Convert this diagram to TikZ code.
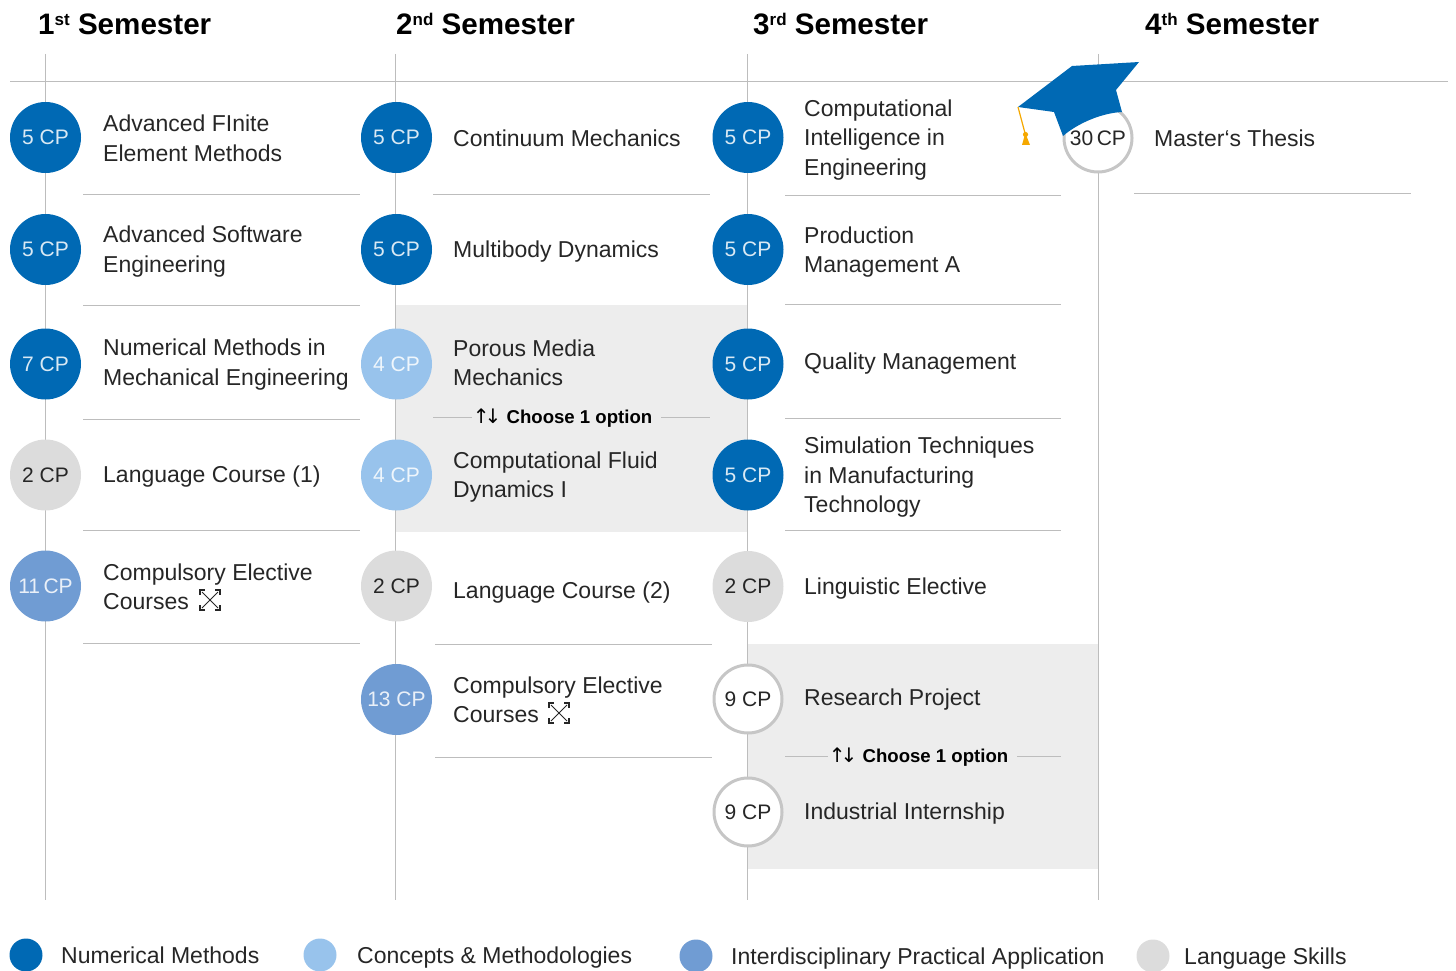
\documentclass[tikz,border=0pt]{standalone}
\usepackage{fontspec}
\setmainfont{Liberation Sans}
\newfontfamily\arrowfont{DejaVu Sans}
\definecolor{numcolor}{HTML}{0069B4}
\definecolor{conceptcolor}{HTML}{98C3EC}
\definecolor{appliedcolor}{HTML}{709CD3}
\definecolor{langcolor}{HTML}{DCDCDC}
\definecolor{optioncolor}{HTML}{EDEDED}
\definecolor{rulecolor}{HTML}{BDBDBD}
\definecolor{textcolor}{HTML}{262626}
\definecolor{tasselcolor}{HTML}{F5A800}
\newcommand{\semsup}[1]{\raisebox{9pt}{\fontsize{17}{17}\selectfont #1}}
\newcommand{\swaparrows}{{\arrowfont\fontsize{20}{22}\selectfont\mdseries ↑\hspace{-5pt}↓}}
\tikzset{
    cpbase/.style={circle, minimum size=71pt, inner sep=0pt, font=\fontsize{21}{26}\selectfont},
    numcp/.style={cpbase, fill=numcolor, text=white!85!numcolor},
    conceptcp/.style={cpbase, fill=conceptcolor, text=white!85!conceptcolor},
    appliedcp/.style={cpbase, fill=appliedcolor, text=white!85!appliedcolor},
    langcp/.style={cpbase, fill=langcolor, text=textcolor},
    optioncp/.style={cpbase, minimum size=68pt, draw=langcolor!90!black, line width=3pt, fill=white, text=textcolor},
    course/.style={anchor=west, align=left, inner sep=0pt, text=textcolor, font=\fontsize{23}{29.5}\selectfont},
    semester/.style={anchor=west, inner sep=0pt, font=\fontsize{29.6}{34}\selectfont\bfseries},
    choose/.style={anchor=east, inner sep=0pt, font=\fontsize{18.6}{22}\selectfont\bfseries},
    legenddot/.style={circle, minimum size=33pt, inner sep=0pt},
    rule/.style={rulecolor, line width=1pt},
    crossicon/.pic={
        \draw[textcolor, line width=1pt] (-8,-8) -- (8,8) (-8,8) -- (8,-8);
        \draw[textcolor, line width=1.3pt] (-10,-5) -- (-10,-10) -- (-5,-10) (5,-10) -- (10,-10) -- (10,-5)
            (10,5) -- (10,10) -- (5,10) (-5,10) -- (-10,10) -- (-10,5);
    }
}
\begin{document}
\begin{tikzpicture}[x=1pt, y=-1pt]
    \useasboundingbox (0,0) rectangle (1456,971);

    % Elective option blocks
    \fill[optioncolor] (396,305) rectangle (748,532);
    \fill[optioncolor] (748,644) rectangle (1098,869);

    % Semester titles
    \node[semester] (sem1) at (38,24) {1\semsup{st} Semester};
    \node[semester] (sem2) at (396,24) {2\semsup{nd} Semester};
    \node[semester] (sem3) at (753,24) {3\semsup{rd} Semester};
    \node[semester] (sem4) at (1145,24) {4\semsup{th} Semester};

    % Time axes
    \coordinate (headL) at (10,81.5);
    \coordinate (headR) at (1448,81.5);
    \draw[rule] (headL) -- (headR);
    \foreach \n/\x in {1/45.5, 2/395.5, 3/747.5, 4/1098} {
        \coordinate (top\n) at (\x,54);
        \coordinate (bot\n) at (\x,900);
        \draw[rule] (top\n) -- (bot\n);
    }

    % Separators below the courses
    \foreach \a/\b/\ys in {83/360/{194,305,419,530,643}, 433/710/{194}, 435/712/{644,757},
                           785/1061/{195,304,418,530}, 1134/1411/{193}} {
        \foreach \y in \ys {
            \coordinate (ruleA) at (\a,\y);
            \coordinate (ruleB) at (\b,\y);
            \draw[rule] (ruleA) -- (ruleB);
        }
    }

    % 1st semester
    \foreach \n/\y/\ty/\kind/\cp/\txt in {
        a/137.5/138.5/numcp/5 CP/{Advanced FInite\\Element Methods},
        b/249.5/251.5/numcp/5 CP/{Advanced Software\\Engineering},
        c/364/364.5/numcp/7 CP/{Numerical Methods in\\Mechanical Engineering},
        d/475/477/langcp/2 CP/{Language Course (1)},
        e/586/587/appliedcp/11\,CP/{Compulsory Elective\\Courses}} {
        \node[\kind] (one\n) at (45.5,\y) {\cp};
        \node[course] (oneText\n) at (103,\ty) {\txt};
    }

    % 2nd semester
    \foreach \n/\y/\ty/\kind/\cp/\txt in {
        a/137.5/138/numcp/5 CP/{Continuum Mechanics},
        b/249.5/252/numcp/5 CP/{Multibody Dynamics},
        c/364/363/conceptcp/4 CP/{Porous Media\\Mechanics},
        d/475/477/conceptcp/4 CP/{Computational Fluid\\Dynamics I},
        e/586/593/langcp/2 CP/{Language Course (2)},
        f/699.5/700/appliedcp/13 CP/{Compulsory Elective\\Courses}} {
        \node[\kind] (two\n) at (396.5,\y) {\cp};
        \node[course] (twoText\n) at (453,\ty) {\txt};
    }

    % 3rd semester
    \foreach \n/\y/\ty/\kind/\cp/\txt in {
        a/137.5/140/numcp/5 CP/{Computational\\Intelligence in\\Engineering},
        b/249.5/252/numcp/5 CP/{Production\\Management A},
        c/364/364/numcp/5 CP/{Quality Management},
        d/475/477.5/numcp/5 CP/{Simulation Techniques\\in Manufacturing\\Technology},
        e/586.5/589/langcp/2 CP/{Linguistic Elective},
        f/699/700/optioncp/9 CP/{Research Project},
        g/812/814/optioncp/9 CP/{Industrial Internship}} {
        \node[\kind] (three\n) at (748,\y) {\cp};
        \node[course] (threeText\n) at (804,\ty) {\txt};
    }

    % 4th semester
    \node[optioncp] (foura) at (1098,138) {30\,CP};
    \node[course] (fourTexta) at (1154,138) {Master‘s Thesis};

    % Choose one option
    \node[choose] (pickA) at (652.5,418) {\swaparrows\ Choose 1 option};
    \node[choose] (pickB) at (1008.5,757) {\swaparrows\ Choose 1 option};
    \coordinate (pickA1) at (433,417);
    \coordinate (pickA2) at (710,417);
    \coordinate (pickB1) at (785,756);
    \coordinate (pickB2) at (1061,756);
    \draw[rule] (pickA1) -- (472,417);
    \draw[rule] (661,417) -- (pickA2);
    \draw[rule] (pickB1) -- (828,756);
    \draw[rule] (1017,756) -- (pickB2);

    % Compulsory elective marks
    \pic at (210,600) {crossicon};
    \pic at (559,713) {crossicon};

    % Graduation cap
    \fill[numcolor] (1018,107) -- (1072,66) -- (1139,62) -- (1116,90) -- (1122,112)
        .. controls (1102,113) and (1078,123) .. (1063,136) -- (1054,112) -- cycle;
    \draw[tasselcolor, line width=1.2pt] (1018,107) -- (1025.5,135);
    \fill[tasselcolor] (1025.5,134.5) circle (2.6);
    \fill[tasselcolor] (1024.5,136) -- (1026.5,136) -- (1030,145) -- (1022,145) -- cycle;

    % Legend
    \foreach \n/\x/\y/\ty/\kind/\tx/\txt in {
        a/26/955/955/numcolor/61/Numerical Methods,
        b/320/955/958/conceptcolor/357/Concepts \& Methodologies,
        c/696/956/959/appliedcolor/731/Interdisciplinary Practical Application,
        d/1153/956/959/langcolor/1184/Language Skills} {
        \node[legenddot, fill=\kind] (key\n) at (\x,\y) {};
        \node[course] (keyText\n) at (\tx,\ty) {\txt};
    }
\end{tikzpicture}
\end{document}
